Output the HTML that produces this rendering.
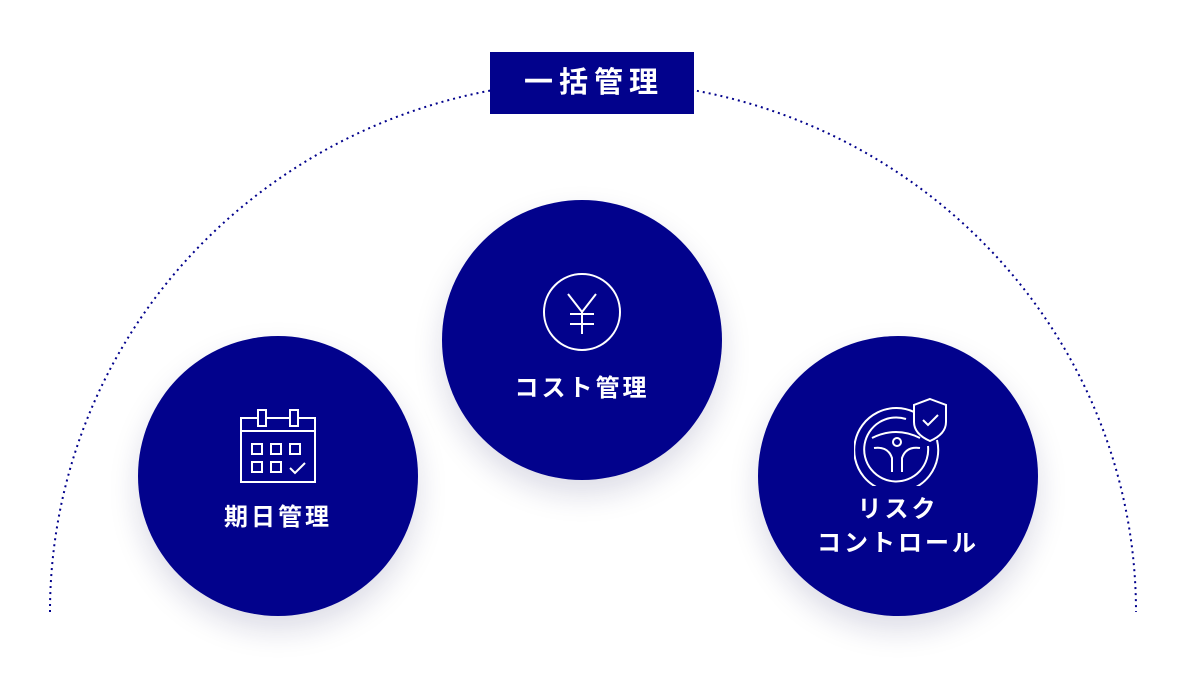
<!DOCTYPE html>
<html><head><meta charset="utf-8"><style>
html,body{margin:0;padding:0;background:#fff;}
body{width:1188px;height:680px;position:relative;overflow:hidden;font-family:"Liberation Sans","Noto Sans CJK JP",sans-serif;}
.c{position:absolute;width:280px;height:280px;border-radius:50%;background:#02028c;box-shadow:0 14px 30px rgba(20,20,90,0.15);color:#fff;font-weight:bold;font-size:24px;text-align:center;letter-spacing:3px;}
.lab{position:absolute;left:490px;top:52px;width:204px;height:62px;background:#02028c;color:#fff;font-weight:bold;font-size:29px;line-height:62px;text-align:center;letter-spacing:6px;text-indent:4px;}
svg.i{position:absolute;}
</style></head><body>
<svg width="1188" height="680" style="position:absolute;left:0;top:0">
<path d="M50,612 A543,531 0 0 1 1136,612" fill="none" stroke="#02028c" stroke-width="2" stroke-dasharray="2,4"/>
</svg>
<div class="lab">一括管理</div>

<div class="c" style="left:138px;top:336px">
<svg class="i" style="left:100px;top:70px" width="80" height="80" viewBox="0 0 80 80" fill="none" stroke="#fff" stroke-width="2">
<rect x="3" y="12" width="74" height="64"/><line x1="3" y1="25" x2="77" y2="25"/>
<rect x="20" y="4" width="8" height="16" fill="#02028c"/><rect x="52" y="4" width="8" height="16" fill="#02028c"/>
<rect x="14" y="38" width="10" height="10"/><rect x="33" y="38" width="10" height="10"/><rect x="52" y="38" width="10" height="10"/>
<rect x="14" y="56" width="10" height="10"/><rect x="33" y="56" width="10" height="10"/><path d="M52,62 l5,5 l10,-10"/>
</svg>
<div style="position:absolute;left:0;right:0;top:161px">期日管理</div>
</div>

<div class="c" style="left:442px;top:200px">
<svg class="i" style="left:100px;top:72px" width="80" height="80" viewBox="0 0 80 80" fill="none" stroke="#fff" stroke-width="2">
<circle cx="40" cy="40" r="38"/><path d="M26,22 L40,40 L54,22 M40,40 V62 M28,42 H52 M28,52 H52"/>
</svg>
<div style="position:absolute;left:0;right:0;top:168px">コスト管理</div>
</div>

<div class="c" style="left:758px;top:336px">
<svg class="i" style="left:96px;top:60px" width="96" height="90" viewBox="0 0 96 90" fill="none" stroke="#fff" stroke-width="2">
<path d="M60,16 A42,42 0 1 0 83,44"/><path d="M52,23 A32,32 0 1 0 74,50"/>
<path d="M18,42 Q42,30 66,42"/><circle cx="43" cy="46" r="4"/>
<path d="M20,52 Q34,50 38,62 L38,76 M66,52 Q52,50 48,62 L48,76"/>
<path d="M76,3 L92,9 V26 Q92,38 76,45 Q60,38 60,26 V9 Z" fill="#02028c"/><path d="M69,24 l5,5 l10,-10"/>
</svg>
<div style="position:absolute;left:0;right:0;top:157px;line-height:34px">リスク<br>コントロール</div>
</div>
</body></html>
